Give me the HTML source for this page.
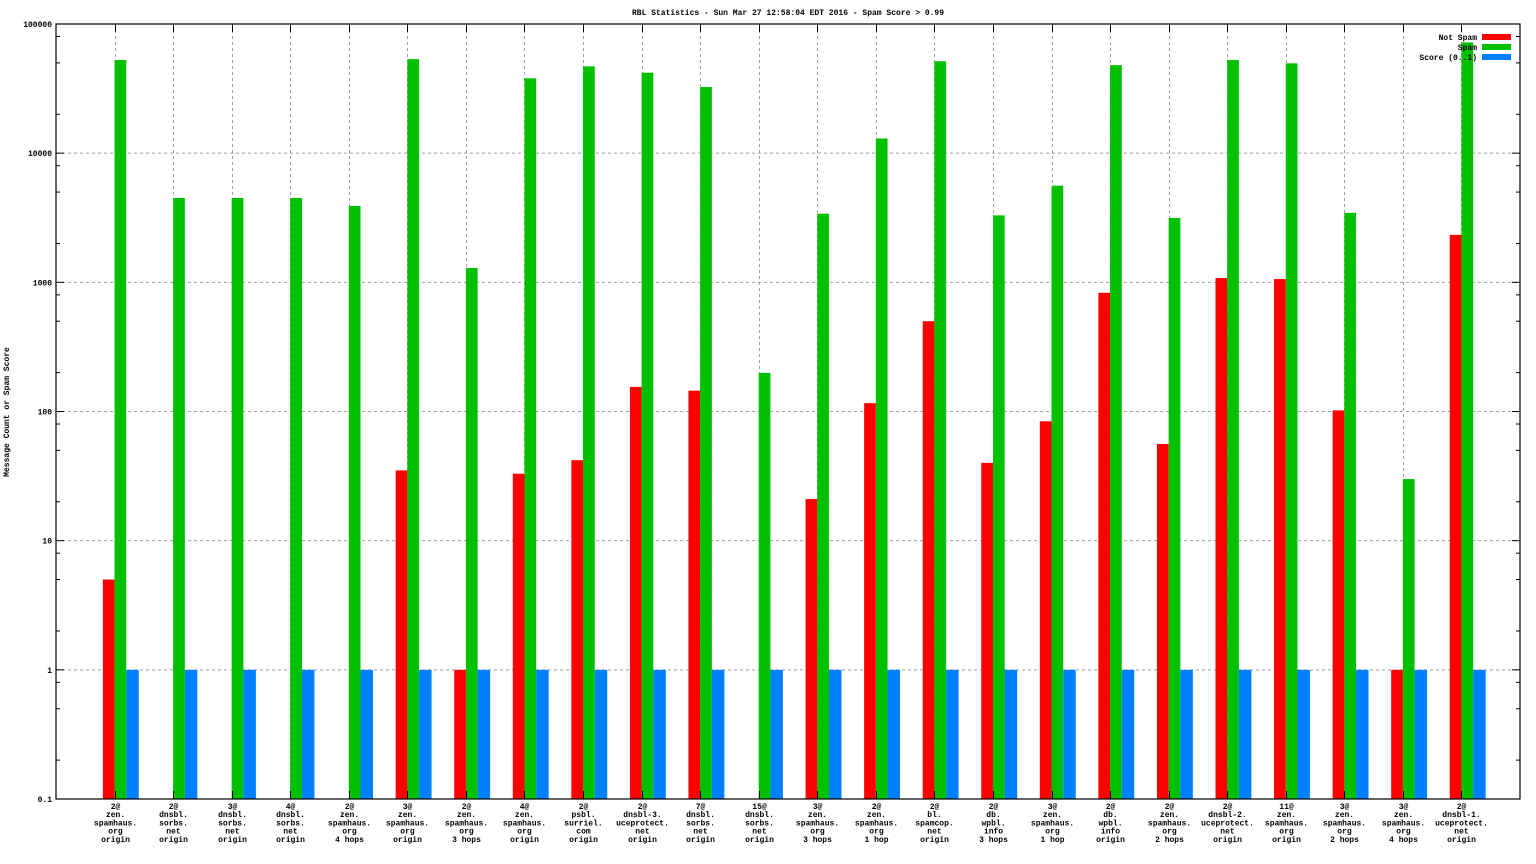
<!DOCTYPE html>
<html><head><meta charset="utf-8"><style>
html,body{margin:0;padding:0;background:#fff;width:1536px;height:864px;overflow:hidden}
svg{display:block}
svg text{font-family:"Liberation Mono","DejaVu Sans Mono",monospace;font-size:8px;fill:#000;font-weight:bold}
</style></head><body>
<svg id="chart" width="1536" height="864" xmlns="http://www.w3.org/2000/svg">
<text x="788" y="15" text-anchor="middle">RBL Statistics - Sun Mar 27 12:58:04 EDT 2016 - Spam Score &gt; 0.99</text>
<text transform="translate(9,412) rotate(-90)" text-anchor="middle">Message Count or Spam Score</text>
<g id="grid"></g><g id="bars"></g><g id="axes"></g><g id="labels"></g>
<g>
<text x="1477" y="40" text-anchor="end">Not Spam</text>
<rect x="1482" y="34" width="29" height="6" fill="#ff0000"/>
<text x="1477" y="50" text-anchor="end">Spam</text>
<rect x="1482" y="44" width="29" height="6" fill="#00c000"/>
<text x="1477" y="60" text-anchor="end">Score (0..1)</text>
<rect x="1482" y="54" width="29" height="6" fill="#0080ff"/>
</g>
</svg>
<script>
const categories = [
"2@|zen.|spamhaus.|org|origin","2@|dnsbl.|sorbs.|net|origin","3@|dnsbl.|sorbs.|net|origin","4@|dnsbl.|sorbs.|net|origin",
"2@|zen.|spamhaus.|org|4 hops","3@|zen.|spamhaus.|org|origin","2@|zen.|spamhaus.|org|3 hops","4@|zen.|spamhaus.|org|origin",
"2@|psbl.|surriel.|com|origin","2@|dnsbl-3.|uceprotect.|net|origin","7@|dnsbl.|sorbs.|net|origin","15@|dnsbl.|sorbs.|net|origin",
"3@|zen.|spamhaus.|org|3 hops","2@|zen.|spamhaus.|org|1 hop","2@|bl.|spamcop.|net|origin","2@|db.|wpbl.|info|3 hops",
"3@|zen.|spamhaus.|org|1 hop","2@|db.|wpbl.|info|origin","2@|zen.|spamhaus.|org|2 hops","2@|dnsbl-2.|uceprotect.|net|origin",
"11@|zen.|spamhaus.|org|origin","3@|zen.|spamhaus.|org|2 hops","3@|zen.|spamhaus.|org|4 hops","2@|dnsbl-1.|uceprotect.|net|origin"];
const notSpam = [5,0,0,0,0,35,1,33,42,155,145,0,21,116,500,40,84,830,56,1080,1060,102,1,2330];
const spam = [52600,4500,4500,4500,3900,53500,1290,38000,47000,42000,32500,199,3400,13000,51500,3300,5600,48000,3150,52600,49600,3450,30,72000];
const score = [1,1,1,1,1,1,1,1,1,1,1,1,1,1,1,1,1,1,1,1,1,1,1,1];
const yTicks = [0.1,1,10,100,1000,10000,100000];
const yTickLabels = ["0.1","1","10","100","1000","10000","100000"];

const NS="http://www.w3.org/2000/svg";
const L=56,R=1520,T=24,B=799;
const xScale=i=>L+(i+1)*(R-L)/(categories.length+1);
const yScale=v=>B-(Math.log10(v)+1)*(B-T)/6;
function mk(tag,attrs,parent){const e=document.createElementNS(NS,tag);for(const k in attrs)e.setAttribute(k,attrs[k]);document.getElementById(parent).appendChild(e);return e;}

yTicks.forEach((v,i)=>{
  const y=yScale(v);
  if(i>0&&i<yTicks.length-1){const g=mk('line',{x1:L,x2:R,y1:y,y2:y,stroke:'#a0a0a0','stroke-dasharray':'3,3','stroke-width':1},'grid');
  
  }
  const t=mk('text',{x:L-4,y:y+3,'text-anchor':'end'},'axes');t.textContent=yTickLabels[i];
  
  
  mk('line',{x1:L,x2:L+8,y1:y,y2:y,stroke:'#000'},'axes');
  mk('line',{x1:R,x2:R-8,y1:y,y2:y,stroke:'#000'},'axes');
  if(i<yTicks.length-1){[2,5,8].forEach(m=>{const ym=yScale(v*m);
    mk('line',{x1:L,x2:L+4,y1:ym,y2:ym,stroke:'#000'},'axes');
    mk('line',{x1:R,x2:R-4,y1:ym,y2:ym,stroke:'#000'},'axes');});}
});
categories.forEach((c,i)=>{
  const x=Math.round(xScale(i))+0.5;
  const g=mk('line',{x1:x,x2:x,y1:T,y2:B,stroke:'#a0a0a0','stroke-dasharray':'3,3'},'grid');
  
  
  mk('line',{x1:x,x2:x,y1:T,y2:T+8,stroke:'#000'},'axes');
  mk('line',{x1:x,x2:x,y1:B,y2:B-8,stroke:'#000'},'axes');
  const t=mk('text',{x:x,y:809,'text-anchor':'middle'},'labels');
  
  
  c.split('|').forEach((ln,j)=>{const s=document.createElementNS(NS,'tspan');s.setAttribute('x',x);s.setAttribute('y',809+j*8.2);s.textContent=ln;t.appendChild(s);});
});
const bw=11.7;
function bar(v,x,w,col,name){
  if(!(v>0))return;
  const y=yScale(v);
  const r=mk('rect',{x:x,y:y,width:w,height:B-y,fill:col},'bars');
  
  
}
categories.forEach((c,i)=>{
  const x=xScale(i);
  bar(notSpam[i],x-bw,bw,'#ff0000','bar-not-spam');
  bar(spam[i],x,bw,'#00c000','bar-spam');
  bar(score[i],x+bw,bw+0.8,'#0080ff','bar-score');
});
const fr=mk('rect',{x:L,y:T,width:R-L,height:B-T,fill:'none',stroke:'#000','stroke-width':1.2},'axes');


</script>
</body></html>
